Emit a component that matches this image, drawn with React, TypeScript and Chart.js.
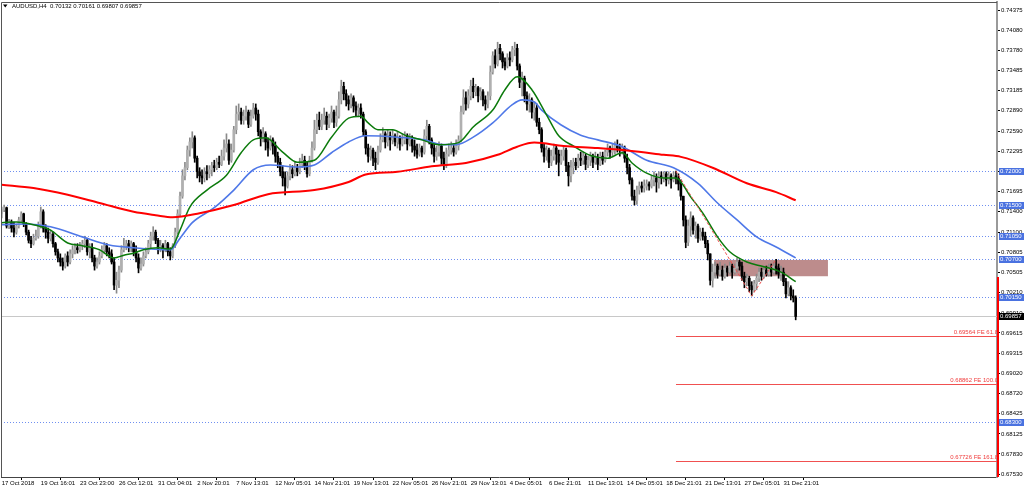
import React, { useEffect, useRef } from 'react';
import { Chart, registerables } from 'chart.js';

Chart.register(...registerables);

// ---- header ----
const SYMBOL = 'AUDUSD,H4';
const HEADER_OHLC = [0.70132, 0.70161, 0.69807, 0.69857];

// ---- candles (H4 bars, open of each bar = previous close) ----
const FIRST_OPEN = 0.7137;
const CLOSE = [
  0.7143, 0.7146, 0.7119, 0.7125, 0.7116, 0.7110, 0.7119, 0.7128, 0.7137, 0.7122,
  0.7110, 0.7098, 0.7093, 0.7101, 0.7104, 0.7119, 0.7140, 0.7116, 0.7110, 0.7101,
  0.7107, 0.7093, 0.7081, 0.7072, 0.7066, 0.7060, 0.7075, 0.7066, 0.7078, 0.7084,
  0.7087, 0.7084, 0.7090, 0.7093, 0.7098, 0.7081, 0.7087, 0.7072, 0.7060, 0.7066,
  0.7075, 0.7084, 0.7090, 0.7081, 0.7078, 0.7066, 0.7032, 0.7039, 0.7054, 0.7084,
  0.7090, 0.7093, 0.7087, 0.7093, 0.7081, 0.7072, 0.7057, 0.7063, 0.7075, 0.7081,
  0.7093, 0.7104, 0.7110, 0.7098, 0.7084, 0.7090, 0.7084, 0.7093, 0.7081, 0.7075,
  0.7090, 0.7110, 0.7137, 0.7163, 0.7193, 0.7205, 0.7231, 0.7243, 0.7249, 0.7219,
  0.7199, 0.7193, 0.7190, 0.7199, 0.7196, 0.7202, 0.7208, 0.7205, 0.7213, 0.7210,
  0.7222, 0.7234, 0.7240, 0.7216, 0.7231, 0.7261, 0.7284, 0.7287, 0.7275, 0.7281,
  0.7287, 0.7269, 0.7281, 0.7293, 0.7284, 0.7258, 0.7249, 0.7255, 0.7243, 0.7234,
  0.7246, 0.7237, 0.7222, 0.7213, 0.7199, 0.7190, 0.7178, 0.7193, 0.7202, 0.7196,
  0.7205, 0.7199, 0.7210, 0.7216, 0.7208, 0.7196, 0.7216, 0.7234, 0.7261, 0.7275,
  0.7266, 0.7275, 0.7281, 0.7269, 0.7278, 0.7287, 0.7272, 0.7281, 0.7305, 0.7325,
  0.7314, 0.7305, 0.7299, 0.7308, 0.7296, 0.7290, 0.7293, 0.7284, 0.7258, 0.7234,
  0.7222, 0.7231, 0.7219, 0.7213, 0.7231, 0.7246, 0.7255, 0.7243, 0.7252, 0.7246,
  0.7252, 0.7243, 0.7249, 0.7240, 0.7246, 0.7252, 0.7240, 0.7246, 0.7237, 0.7231,
  0.7225, 0.7234, 0.7228, 0.7252, 0.7266, 0.7246, 0.7234, 0.7222, 0.7228, 0.7237,
  0.7219, 0.7208, 0.7225, 0.7231, 0.7234, 0.7228, 0.7237, 0.7246, 0.7287, 0.7308,
  0.7299, 0.7311, 0.7325, 0.7317, 0.7323, 0.7311, 0.7317, 0.7305, 0.7299, 0.7311,
  0.7346, 0.7370, 0.7358, 0.7381, 0.7373, 0.7361, 0.7355, 0.7367, 0.7364, 0.7379,
  0.7381, 0.7355, 0.7331, 0.7337, 0.7311, 0.7299, 0.7305, 0.7287, 0.7293, 0.7272,
  0.7261, 0.7234, 0.7222, 0.7231, 0.7213, 0.7222, 0.7234, 0.7225, 0.7213, 0.7222,
  0.7231, 0.7208, 0.7193, 0.7205, 0.7213, 0.7208, 0.7219, 0.7216, 0.7222, 0.7210,
  0.7216, 0.7222, 0.7213, 0.7219, 0.7210, 0.7222, 0.7216, 0.7228, 0.7234, 0.7228,
  0.7231, 0.7237, 0.7234, 0.7231, 0.7234, 0.7219, 0.7205, 0.7187, 0.7163, 0.7157,
  0.7172, 0.7178, 0.7175, 0.7178, 0.7181, 0.7178, 0.7187, 0.7190, 0.7184, 0.7193,
  0.7190, 0.7196, 0.7187, 0.7193, 0.7187, 0.7193, 0.7190, 0.7181, 0.7163, 0.7128,
  0.7095, 0.7119, 0.7131, 0.7113, 0.7119, 0.7101, 0.7110, 0.7104, 0.7093, 0.7078,
  0.7039, 0.7051, 0.7060, 0.7048, 0.7054, 0.7045, 0.7057, 0.7051, 0.7060, 0.7051,
  0.7057, 0.7066, 0.7060, 0.7045, 0.7037, 0.7042, 0.7031, 0.7025, 0.7034, 0.7042,
  0.7051, 0.7045, 0.7054, 0.7048, 0.7057, 0.7051, 0.7060, 0.7057, 0.7048, 0.7051,
  0.7037, 0.7019, 0.7028, 0.7016, 0.70132, 0.69857,
];
const HIGH = [
  0.7147, 0.7150, 0.7147, 0.7129, 0.7128, 0.7125, 0.7122, 0.7132, 0.7140, 0.7138,
  0.7124, 0.7113, 0.7104, 0.7107, 0.7113, 0.7125, 0.7147, 0.7143, 0.7121, 0.7116,
  0.7113, 0.7110, 0.7095, 0.7085, 0.7078, 0.7072, 0.7078, 0.7081, 0.7084, 0.7090,
  0.7093, 0.7093, 0.7095, 0.7098, 0.7104, 0.7101, 0.7093, 0.7093, 0.7076, 0.7072,
  0.7081, 0.7090, 0.7095, 0.7093, 0.7087, 0.7084, 0.7072, 0.7051, 0.7060, 0.7090,
  0.7101, 0.7098, 0.7098, 0.7097, 0.7095, 0.7090, 0.7078, 0.7072, 0.7081, 0.7087,
  0.7098, 0.7110, 0.7118, 0.7113, 0.7101, 0.7098, 0.7093, 0.7098, 0.7095, 0.7087,
  0.7093, 0.7116, 0.7143, 0.7169, 0.7202, 0.7213, 0.7237, 0.7249, 0.7258, 0.7252,
  0.7222, 0.7205, 0.7202, 0.7205, 0.7208, 0.7208, 0.7213, 0.7216, 0.7219, 0.7222,
  0.7231, 0.7246, 0.7255, 0.7246, 0.7240, 0.7266, 0.7296, 0.7299, 0.7293, 0.7290,
  0.7296, 0.7290, 0.7290, 0.7300, 0.7299, 0.7290, 0.7261, 0.7264, 0.7258, 0.7249,
  0.7252, 0.7249, 0.7243, 0.7228, 0.7219, 0.7208, 0.7199, 0.7199, 0.7210, 0.7208,
  0.7213, 0.7210, 0.7219, 0.7225, 0.7222, 0.7213, 0.7222, 0.7243, 0.7275, 0.7284,
  0.7287, 0.7284, 0.7293, 0.7287, 0.7284, 0.7296, 0.7290, 0.7296, 0.7317, 0.7334,
  0.7331, 0.7320, 0.7311, 0.7314, 0.7311, 0.7302, 0.7299, 0.7299, 0.7287, 0.7261,
  0.7240, 0.7237, 0.7234, 0.7228, 0.7237, 0.7255, 0.7264, 0.7258, 0.7261, 0.7258,
  0.7261, 0.7255, 0.7258, 0.7252, 0.7255, 0.7258, 0.7255, 0.7255, 0.7252, 0.7246,
  0.7240, 0.7240, 0.7237, 0.7261, 0.7275, 0.7269, 0.7249, 0.7240, 0.7237, 0.7243,
  0.7240, 0.7228, 0.7234, 0.7240, 0.7243, 0.7240, 0.7246, 0.7252, 0.7296, 0.7320,
  0.7317, 0.7320, 0.7334, 0.7337, 0.7328, 0.7325, 0.7323, 0.7320, 0.7311, 0.7317,
  0.7355, 0.7376, 0.7379, 0.7390, 0.7387, 0.7376, 0.7367, 0.7373, 0.7376, 0.7384,
  0.7390, 0.7387, 0.7358, 0.7346, 0.7340, 0.7317, 0.7314, 0.7308, 0.7302, 0.7299,
  0.7278, 0.7264, 0.7240, 0.7237, 0.7234, 0.7231, 0.7240, 0.7237, 0.7231, 0.7231,
  0.7237, 0.7234, 0.7213, 0.7216, 0.7219, 0.7219, 0.7225, 0.7228, 0.7228, 0.7225,
  0.7222, 0.7228, 0.7225, 0.7228, 0.7225, 0.7228, 0.7228, 0.7231, 0.7240, 0.7237,
  0.7240, 0.7243, 0.7246, 0.7240, 0.7240, 0.7237, 0.7225, 0.7210, 0.7190, 0.7172,
  0.7178, 0.7184, 0.7184, 0.7187, 0.7187, 0.7184, 0.7193, 0.7199, 0.7196, 0.7199,
  0.7199, 0.7199, 0.7199, 0.7199, 0.7196, 0.7199, 0.7200, 0.7196, 0.7187, 0.7163,
  0.7134, 0.7128, 0.7140, 0.7134, 0.7125, 0.7122, 0.7116, 0.7116, 0.7110, 0.7098,
  0.7078, 0.7063, 0.7066, 0.7063, 0.7066, 0.7060, 0.7063, 0.7060, 0.7066, 0.7063,
  0.7063, 0.7072, 0.7069, 0.7066, 0.7051, 0.7048, 0.7045, 0.7037, 0.7039, 0.7048,
  0.7057, 0.7057, 0.7060, 0.7060, 0.7063, 0.7063, 0.7066, 0.7070, 0.7063, 0.7060,
  0.7057, 0.7042, 0.7037, 0.7031, 0.7025, 0.70161,
];
const LOW = [
  0.7131, 0.7140, 0.7116, 0.7115, 0.7110, 0.7103, 0.7107, 0.7116, 0.7125, 0.7118,
  0.7106, 0.7094, 0.7087, 0.7091, 0.7098, 0.7101, 0.7116, 0.7110, 0.7101, 0.7094,
  0.7097, 0.7088, 0.7076, 0.7066, 0.7060, 0.7054, 0.7057, 0.7060, 0.7063, 0.7072,
  0.7078, 0.7079, 0.7081, 0.7084, 0.7087, 0.7076, 0.7072, 0.7066, 0.7054, 0.7057,
  0.7063, 0.7072, 0.7078, 0.7075, 0.7072, 0.7063, 0.7025, 0.7020, 0.7028, 0.7051,
  0.7081, 0.7084, 0.7081, 0.7081, 0.7075, 0.7066, 0.7050, 0.7054, 0.7060, 0.7072,
  0.7078, 0.7087, 0.7098, 0.7093, 0.7078, 0.7081, 0.7072, 0.7081, 0.7075, 0.7069,
  0.7072, 0.7087, 0.7107, 0.7134, 0.7160, 0.7187, 0.7202, 0.7222, 0.7234, 0.7213,
  0.7190, 0.7184, 0.7181, 0.7184, 0.7187, 0.7190, 0.7193, 0.7199, 0.7202, 0.7205,
  0.7208, 0.7216, 0.7228, 0.7210, 0.7213, 0.7228, 0.7255, 0.7275, 0.7269, 0.7269,
  0.7275, 0.7264, 0.7266, 0.7278, 0.7275, 0.7252, 0.7237, 0.7243, 0.7231, 0.7222,
  0.7231, 0.7225, 0.7213, 0.7205, 0.7193, 0.7178, 0.7165, 0.7175, 0.7187, 0.7190,
  0.7193, 0.7193, 0.7196, 0.7205, 0.7202, 0.7191, 0.7193, 0.7213, 0.7231, 0.7255,
  0.7261, 0.7261, 0.7269, 0.7261, 0.7264, 0.7272, 0.7264, 0.7266, 0.7278, 0.7299,
  0.7305, 0.7296, 0.7290, 0.7293, 0.7287, 0.7281, 0.7280, 0.7278, 0.7252, 0.7225,
  0.7213, 0.7216, 0.7208, 0.7202, 0.7210, 0.7228, 0.7243, 0.7234, 0.7237, 0.7231,
  0.7240, 0.7237, 0.7234, 0.7231, 0.7237, 0.7240, 0.7231, 0.7237, 0.7228, 0.7222,
  0.7219, 0.7222, 0.7221, 0.7225, 0.7246, 0.7240, 0.7225, 0.7213, 0.7216, 0.7222,
  0.7210, 0.7202, 0.7205, 0.7222, 0.7225, 0.7222, 0.7225, 0.7231, 0.7243, 0.7284,
  0.7290, 0.7293, 0.7305, 0.7308, 0.7311, 0.7302, 0.7305, 0.7296, 0.7290, 0.7293,
  0.7305, 0.7343, 0.7352, 0.7355, 0.7364, 0.7352, 0.7349, 0.7352, 0.7355, 0.7361,
  0.7370, 0.7349, 0.7323, 0.7311, 0.7302, 0.7290, 0.7287, 0.7278, 0.7275, 0.7266,
  0.7255, 0.7228, 0.7213, 0.7216, 0.7205, 0.7208, 0.7216, 0.7210, 0.7193, 0.7210,
  0.7216, 0.7199, 0.7178, 0.7184, 0.7196, 0.7202, 0.7205, 0.7208, 0.7210, 0.7202,
  0.7205, 0.7208, 0.7205, 0.7210, 0.7202, 0.7208, 0.7210, 0.7213, 0.7222, 0.7219,
  0.7222, 0.7225, 0.7228, 0.7222, 0.7225, 0.7213, 0.7196, 0.7181, 0.7157, 0.7150,
  0.7151, 0.7166, 0.7169, 0.7169, 0.7172, 0.7172, 0.7175, 0.7178, 0.7169, 0.7175,
  0.7181, 0.7184, 0.7178, 0.7181, 0.7175, 0.7184, 0.7181, 0.7172, 0.7157, 0.7119,
  0.7087, 0.7090, 0.7104, 0.7107, 0.7101, 0.7095, 0.7098, 0.7098, 0.7087, 0.7069,
  0.7032, 0.7029, 0.7042, 0.7042, 0.7045, 0.7039, 0.7042, 0.7045, 0.7048, 0.7042,
  0.7048, 0.7051, 0.7054, 0.7039, 0.7028, 0.7031, 0.7022, 0.7016, 0.7022, 0.7025,
  0.7037, 0.7039, 0.7042, 0.7045, 0.7045, 0.7045, 0.7048, 0.7048, 0.7042, 0.7039,
  0.7031, 0.7013, 0.7016, 0.7010, 0.7007, 0.69807,
];

// ---- moving averages, read at sample bars ----
const MA_RED_X = [0, 13, 27, 40, 54, 63, 70, 81, 95, 109, 128, 142, 149, 162, 176, 190, 203, 211, 218, 230, 244, 257, 271, 278, 291, 305, 317, 325];
const MA_RED_Y = [0.7180, 0.7175, 0.7165, 0.7153, 0.7140, 0.7135, 0.7132, 0.7138, 0.7150, 0.7166, 0.7172, 0.7184, 0.7195, 0.7199, 0.7207, 0.7212, 0.7224, 0.7236, 0.7242, 0.7237, 0.7234, 0.7230, 0.7224, 0.7221, 0.7205, 0.7182, 0.7169, 0.7157];
const MA_GREEN_X = [0, 6, 13, 20, 27, 33, 40, 46, 50, 54, 58, 64, 69, 73, 77, 84, 92, 98, 103, 108, 115, 121, 128, 135, 142, 147, 150, 154, 160, 165, 172, 179, 187, 193, 201, 206, 211, 217, 223, 228, 234, 241, 248, 254, 258, 264, 271, 276, 282, 287, 293, 298, 305, 312, 319, 325];
const MA_GREEN_Y = [0.7124, 0.7125, 0.7121, 0.7113, 0.7094, 0.7090, 0.7084, 0.7072, 0.7076, 0.7079, 0.7084, 0.7087, 0.7085, 0.7113, 0.7147, 0.7172, 0.7194, 0.7227, 0.7246, 0.7249, 0.7228, 0.7213, 0.7216, 0.7250, 0.7278, 0.7281, 0.7271, 0.7261, 0.7261, 0.7253, 0.7246, 0.7239, 0.7242, 0.7265, 0.7290, 0.7320, 0.7339, 0.7320, 0.7283, 0.7252, 0.7237, 0.7223, 0.7219, 0.7227, 0.7212, 0.7197, 0.7190, 0.7190, 0.7162, 0.7138, 0.7103, 0.7081, 0.7066, 0.7059, 0.7051, 0.7037];
const MA_BLUE_X = [0, 10, 20, 33, 44, 54, 69, 73, 78, 87, 95, 103, 110, 121, 128, 135, 142, 149, 162, 173, 180, 186, 193, 201, 209, 213, 218, 221, 229, 237, 244, 254, 264, 275, 285, 293, 301, 309, 317, 325];
const MA_BLUE_Y = [0.7121, 0.7122, 0.7118, 0.7103, 0.7091, 0.7087, 0.7084, 0.7101, 0.7124, 0.7146, 0.7172, 0.7202, 0.7209, 0.7206, 0.7209, 0.7227, 0.7243, 0.7252, 0.7250, 0.7246, 0.7239, 0.7239, 0.7250, 0.7271, 0.7298, 0.7305, 0.7302, 0.7290, 0.7268, 0.7253, 0.7246, 0.7236, 0.7216, 0.7205, 0.7182, 0.7153, 0.7128, 0.7103, 0.7088, 0.7072];

// ---- axes ----
const X_TICK_INDEX = [0, 16, 32, 48, 64, 80, 96, 112, 128, 144, 160, 176, 192, 208, 224, 240, 256, 272, 288, 304, 320];
const X_TICK_LABELS = [
  '17 Oct 2018', '19 Oct 16:01', '23 Oct 23:00', '26 Oct 12:01', '31 Oct 04:01', '2 Nov 20:01', '7 Nov 13:01',
  '12 Nov 05:01', '14 Nov 21:01', '19 Nov 13:01', '22 Nov 05:01', '26 Nov 21:01', '29 Nov 13:01', '4 Dec 05:01',
  '6 Dec 21:01', '11 Dec 13:01', '14 Dec 05:01', '18 Dec 21:01', '21 Dec 13:01', '27 Dec 05:01', '31 Dec 21:01',
];
const Y_TICKS = [0.74375, 0.7408, 0.7378, 0.73485, 0.73185, 0.7289, 0.7259, 0.72295, 0.71995, 0.71695, 0.714, 0.711, 0.70805, 0.70505, 0.7021, 0.6991, 0.69615, 0.69315, 0.6902, 0.6872, 0.68425, 0.68125, 0.6783, 0.6753];
const X_MIN = -0.29;
const X_MAX = 407.4;
const Y_MIN = 0.6749;
const Y_MAX = 0.74493;

// ---- objects ----
const H_LEVELS = [0.72, 0.715, 0.7105, 0.707, 0.7015, 0.683];
const PRICE_NOW = 0.69857;
const FE_LEVELS = [0.69564, 0.68862, 0.67726];
const FE_NAMES = ['61.8', '100.0', '161.8'];
const FE_X = [276, 307, 317];
const FE_Y = [0.7200, 0.7016, 0.7070];
const ZONE_X = [291.6, 338.2];
const ZONE_Y = [0.7069, 0.7045];
const AXIS_MARK_FROM = 0.7044;

const FONT = 'Liberation Sans, Arial, sans-serif';

export default function App() {
  const ref = useRef<HTMLCanvasElement>(null);

  useEffect(() => {
    const canvas = ref.current;
    if (!canvas) return;
    const open = CLOSE.map((_, i) => (i === 0 ? FIRST_OPEN : CLOSE[i - 1]));
    const up = CLOSE.map((c, i) => c >= open[i]);
    const bodies = CLOSE.map((c, i) => ({ x: i, y: [open[i], c] }));
    const wicks = CLOSE.map((c, i) => ({
      x: i,
      y: [Math.min(LOW[i], open[i], c), Math.max(HIGH[i], open[i], c)],
    }));
    const pts = (xs: number[], ys: number[]) => xs.map((x, i) => ({ x, y: ys[i] }));

    const objects = {
      id: 'mtObjects',
      beforeDatasetsDraw(chart: any) {
        const { ctx, chartArea: a, scales } = chart;
        const px = (v: number) => scales.x.getPixelForValue(v);
        const py = (v: number) => scales.y.getPixelForValue(v);
        ctx.save();
        ctx.beginPath();
        ctx.rect(a.left, a.top, a.right - a.left, a.bottom - a.top);
        ctx.clip();
        // zone rectangle
        ctx.fillStyle = '#bd8c8c';
        const zx0 = px(ZONE_X[0]);
        const zy0 = py(ZONE_Y[0]);
        ctx.fillRect(zx0, zy0, px(ZONE_X[1]) - zx0, py(ZONE_Y[1]) - zy0);
        // dotted horizontal levels
        ctx.strokeStyle = '#6f8ff0';
        ctx.lineWidth = 1;
        ctx.setLineDash([1, 2]);
        H_LEVELS.forEach((v) => {
          const y = Math.round(py(v)) + 0.5;
          ctx.beginPath();
          ctx.moveTo(a.left, y);
          ctx.lineTo(a.right, y);
          ctx.stroke();
        });
        ctx.setLineDash([]);
        // current price line
        ctx.strokeStyle = '#c8c8c8';
        const yn = Math.round(py(PRICE_NOW)) + 0.5;
        ctx.beginPath();
        ctx.moveTo(a.left, yn);
        ctx.lineTo(a.right, yn);
        ctx.stroke();
        ctx.restore();
      },
      afterDatasetsDraw(chart: any) {
        const { ctx, chartArea: a, scales } = chart;
        const px = (v: number) => scales.x.getPixelForValue(v);
        const py = (v: number) => scales.y.getPixelForValue(v);
        ctx.save();
        ctx.beginPath();
        ctx.rect(a.left, a.top, a.right - a.left, a.bottom - a.top);
        ctx.clip();
        // FE zigzag
        ctx.strokeStyle = '#f05050';
        ctx.lineWidth = 1;
        ctx.setLineDash([3, 2]);
        ctx.beginPath();
        FE_X.forEach((x, i) => {
          if (i === 0) ctx.moveTo(px(x), py(FE_Y[i]));
          else ctx.lineTo(px(x), py(FE_Y[i]));
        });
        ctx.stroke();
        ctx.setLineDash([]);
        // FE levels
        ctx.strokeStyle = '#f05050';
        ctx.fillStyle = '#f03c3c';
        ctx.font = `6px ${FONT}`;
        ctx.textAlign = 'right';
        ctx.textBaseline = 'bottom';
        FE_LEVELS.forEach((v, i) => {
          const y = Math.round(py(v)) + 0.5;
          ctx.beginPath();
          ctx.moveTo(px(FE_X[0]), y);
          ctx.lineTo(a.right, y);
          ctx.stroke();
          ctx.fillText(`${v.toFixed(5)} FE ${FE_NAMES[i]}`, a.right + 1, y - 1);
        });
        ctx.restore();
      },
      afterDraw(chart: any) {
        const { ctx, chartArea: a, scales, width } = chart;
        const py = (v: number) => scales.y.getPixelForValue(v);
        ctx.save();
        // frame top / left
        ctx.strokeStyle = '#555';
        ctx.lineWidth = 1;
        ctx.beginPath();
        ctx.moveTo(a.left + 0.5, a.bottom);
        ctx.lineTo(a.left + 0.5, a.top + 0.5);
        ctx.lineTo(a.right, a.top + 0.5);
        ctx.stroke();
        // red mark on price scale
        ctx.strokeStyle = '#ff0000';
        ctx.lineWidth = 2;
        ctx.beginPath();
        ctx.moveTo(a.right + 1, py(AXIS_MARK_FROM));
        ctx.lineTo(a.right + 1, a.bottom);
        ctx.stroke();
        // price boxes on the axis
        ctx.font = `6px ${FONT}`;
        ctx.textAlign = 'left';
        ctx.textBaseline = 'middle';
        const box = (v: number, bg: string) => {
          const y = Math.round(py(v));
          ctx.fillStyle = bg;
          ctx.fillRect(a.right + 2, y - 3, width - a.right - 2, 7);
          ctx.fillStyle = '#ffffff';
          ctx.fillText(v.toFixed(5), a.right + 3, y + 0.5);
        };
        H_LEVELS.forEach((v) => box(v, '#4a72e0'));
        box(PRICE_NOW, '#000000');
        // header
        ctx.fillStyle = '#000';
        ctx.beginPath();
        ctx.moveTo(3, 4.5);
        ctx.lineTo(7.5, 4.5);
        ctx.lineTo(5.25, 7.5);
        ctx.closePath();
        ctx.fill();
        ctx.textBaseline = 'middle';
        ctx.fillText(`${SYMBOL}  ${HEADER_OHLC.map((v) => v.toFixed(5)).join(' ')}`, 12, 6.5);
        ctx.restore();
      },
    };

    const chart = new Chart(canvas, {
      type: 'bar',
      data: {
        datasets: [
          { type: 'line', label: 'MA red', data: pts(MA_RED_X, MA_RED_Y), borderColor: '#ff0000', borderWidth: 2, pointRadius: 0, cubicInterpolationMode: 'monotone', order: 0 } as any,
          { type: 'line', label: 'MA blue', data: pts(MA_BLUE_X, MA_BLUE_Y), borderColor: '#4f78e8', borderWidth: 1.6, pointRadius: 0, cubicInterpolationMode: 'monotone', order: 1 } as any,
          { type: 'line', label: 'MA green', data: pts(MA_GREEN_X, MA_GREEN_Y), borderColor: '#0b7a0b', borderWidth: 1.5, pointRadius: 0, cubicInterpolationMode: 'monotone', order: 0 } as any,
          { type: 'bar', label: 'body', data: bodies as any, backgroundColor: up.map((u) => (u ? '#b0b0b0' : '#000000')), barThickness: 2, grouped: false, borderWidth: 0, order: 3 } as any,
          { type: 'bar', label: 'wick', data: wicks as any, backgroundColor: up.map((u) => (u ? '#8a8a8a' : '#000000')), barThickness: 1, grouped: false, borderWidth: 0, order: 4 } as any,
        ],
      },
      options: {
        animation: false,
        responsive: true,
        maintainAspectRatio: false,
        events: [],
        layout: { padding: { left: 1, top: 2, right: 0, bottom: 0 } },
        plugins: { legend: { display: false }, tooltip: { enabled: false }, title: { display: false } },
        scales: {
          x: {
            type: 'linear',
            min: X_MIN,
            max: X_MAX,
            offset: false,
            afterBuildTicks: (s: any) => {
              s.ticks = X_TICK_INDEX.map((v) => ({ value: v }));
            },
            afterFit: (s: any) => {
              s.height = 12;
              s.paddingLeft = 0;
              s.paddingRight = 0;
            },
            ticks: {
              callback: (_v: any, i: number) => X_TICK_LABELS[i],
              align: 'start',
              maxRotation: 0,
              minRotation: 0,
              autoSkip: false,
              padding: 0,
              color: '#000',
              font: { size: 6, family: FONT },
            },
            grid: { drawOnChartArea: false, drawTicks: true, tickLength: 3, color: '#000' },
            border: { display: true, color: '#444', width: 1 },
          },
          y: {
            type: 'linear',
            position: 'right',
            min: Y_MIN,
            max: Y_MAX,
            afterBuildTicks: (s: any) => {
              s.ticks = Y_TICKS.map((v) => ({ value: v }));
            },
            afterFit: (s: any) => {
              s.width = 27;
              s.paddingTop = 0;
              s.paddingBottom = 0;
            },
            ticks: {
              callback: (v: any) => Number(v).toFixed(5),
              autoSkip: false,
              padding: 1,
              color: '#000',
              font: { size: 6, family: FONT },
            },
            grid: { drawOnChartArea: false, drawTicks: true, tickLength: 3, color: '#000' },
            border: { display: true, color: '#9a9a9a', width: 2 },
          },
        },
      },
      plugins: [objects],
    } as any);

    return () => chart.destroy();
  }, []);

  return (
    <div style={{ position: 'fixed', left: 0, top: 0, width: 1024, height: 489, background: '#ffffff' }}>
      <canvas ref={ref} />
    </div>
  );
}
